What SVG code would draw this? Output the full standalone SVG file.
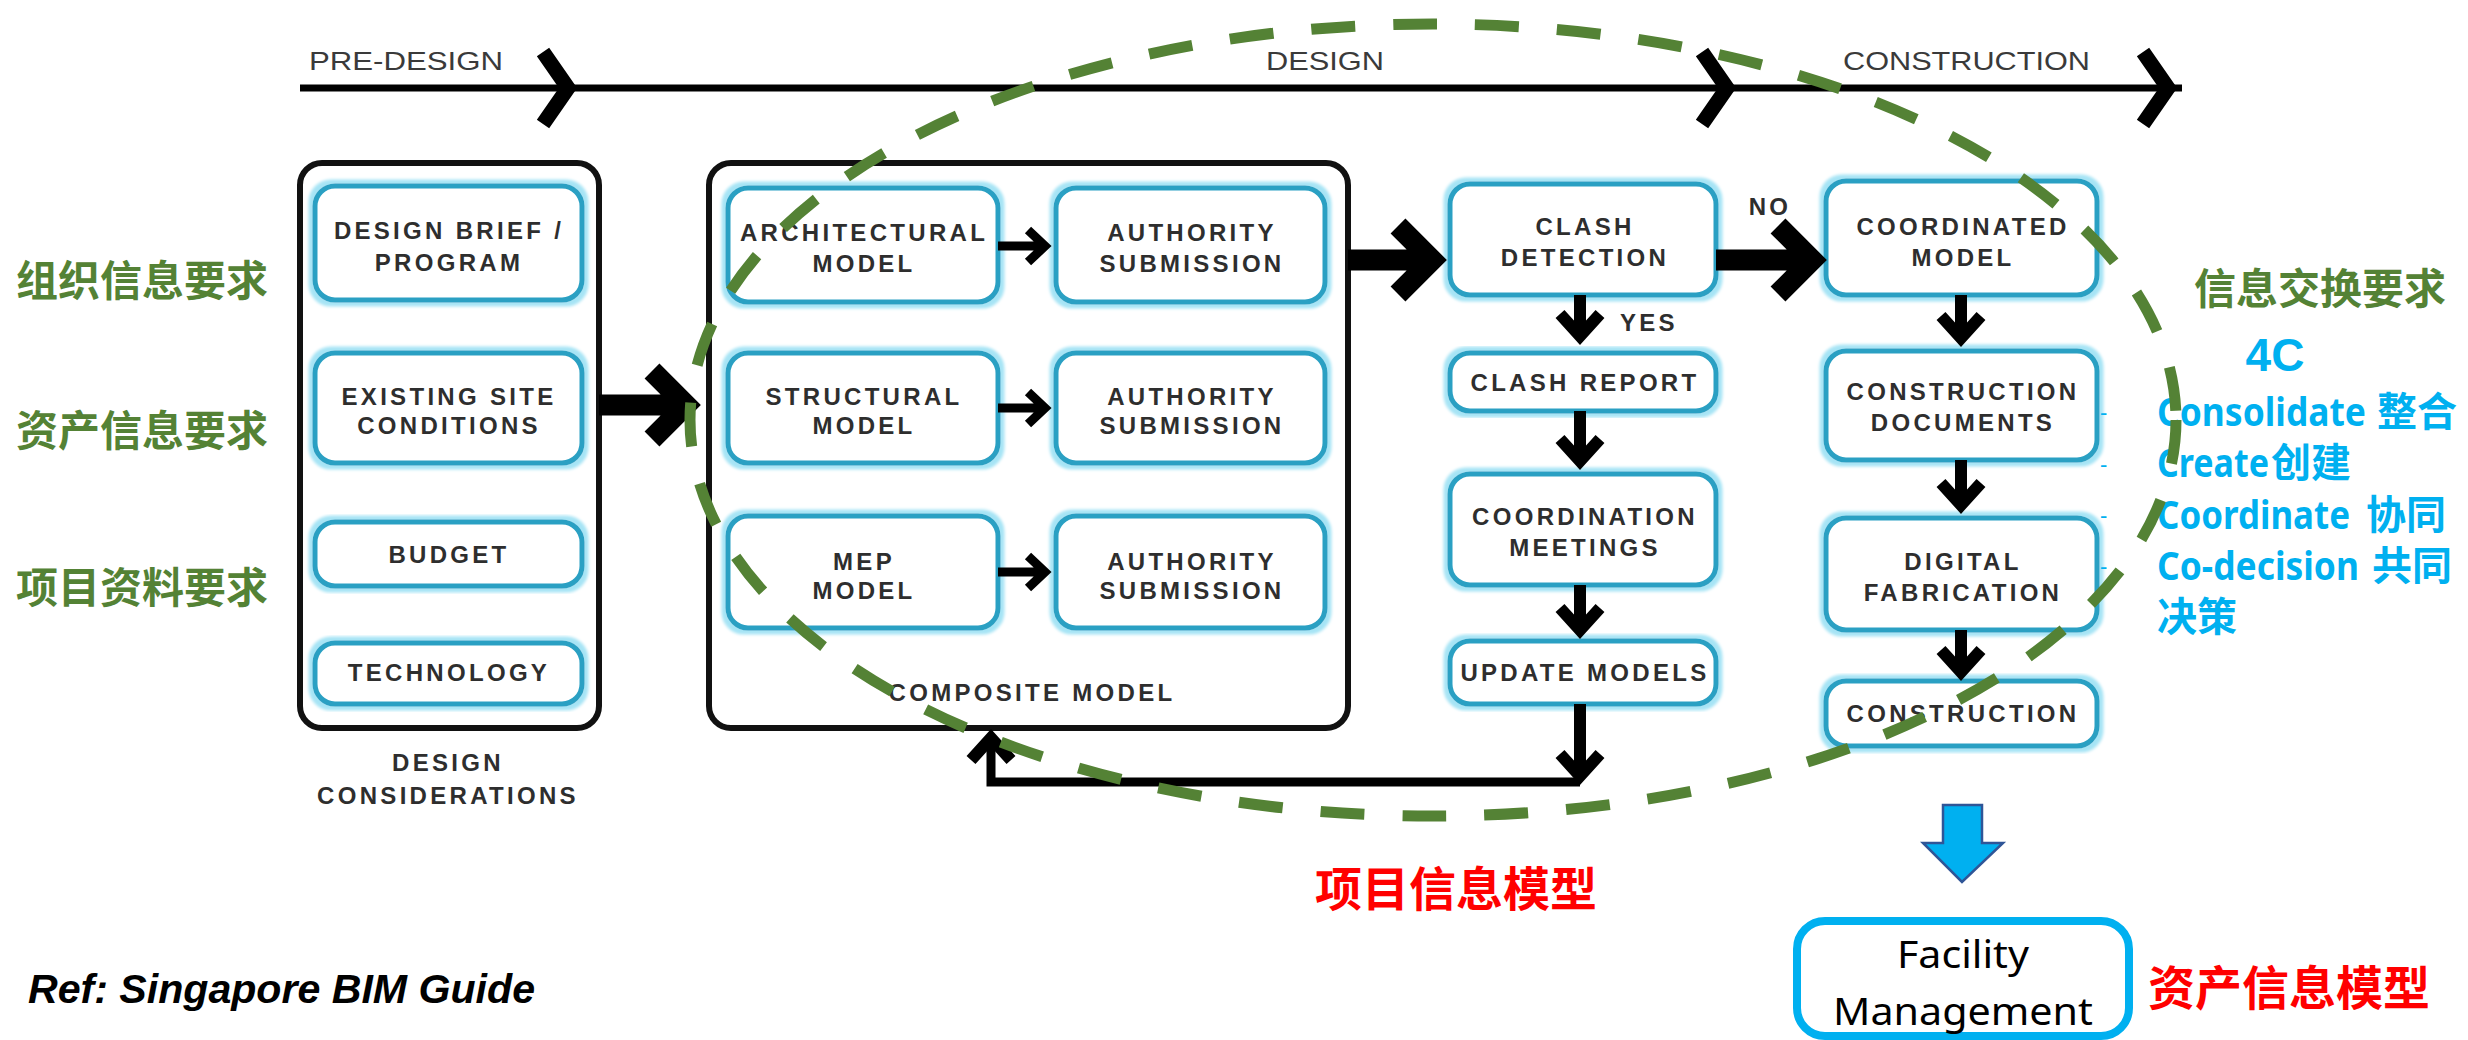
<svg xmlns="http://www.w3.org/2000/svg" width="2468" height="1040" viewBox="0 0 2468 1040">
<style>
.nb{fill:#fff;stroke:#2aa0c3;stroke-width:5;filter:url(#glow)}
.ob{fill:#fff;stroke:#111;stroke-width:6}
.t{font-family:"Liberation Sans",Arial,sans-serif;font-weight:bold;font-size:24px;letter-spacing:3.3px;fill:#2e2e2e;text-anchor:middle}
.tl{font-family:"Liberation Sans",Arial,sans-serif;font-size:26px;fill:#3a3a3a}
.big{fill:none;stroke:#000;stroke-width:21;stroke-linejoin:miter}
.sm{fill:none;stroke:#000;stroke-width:9;stroke-linejoin:miter}
.vt{fill:none;stroke:#000;stroke-width:12;stroke-linejoin:miter}
.gr{font-family:"Noto Sans CJK SC","Noto Sans",sans-serif;font-weight:bold;font-size:42px;fill:#548235}
.bl{font-family:"Noto Sans","Noto Sans CJK SC",sans-serif;font-weight:bold;font-size:40px;fill:#00b0f0}
.rd{font-family:"Noto Sans CJK SC",sans-serif;font-weight:bold;font-size:47px;fill:#ff0000}
</style>
<defs>
<filter id="glow" x="-5%" y="-12%" width="110%" height="124%">
<feMorphology in="SourceAlpha" operator="dilate" radius="3.5" result="d"/>
<feGaussianBlur in="d" stdDeviation="1.5" result="b"/>
<feFlood flood-color="#a6e4f5"/>
<feComposite in2="b" operator="in" result="g"/>
<feMerge><feMergeNode in="g"/><feMergeNode in="SourceGraphic"/></feMerge>
</filter>
</defs>
<rect width="2468" height="1040" fill="#fff"/>

<g id="timeline">
<path d="M300,88 H2182" stroke="#000" stroke-width="7" fill="none"/>
<path d="M543,52 L568,88 L543,124" stroke="#000" stroke-width="15" fill="none" stroke-linejoin="miter"/>
<path d="M1702,52 L1727,88 L1702,124" stroke="#000" stroke-width="15" fill="none" stroke-linejoin="miter"/>
<path d="M2143,52 L2168,88 L2143,124" stroke="#000" stroke-width="15" fill="none" stroke-linejoin="miter"/>
<text class="tl" x="309" y="70" textLength="194" lengthAdjust="spacingAndGlyphs">PRE-DESIGN</text>
<text class="tl" x="1266" y="70" textLength="118" lengthAdjust="spacingAndGlyphs">DESIGN</text>
<text class="tl" x="1843" y="70" textLength="247" lengthAdjust="spacingAndGlyphs">CONSTRUCTION</text>
</g>

<g id="design-considerations">
<rect class="ob" x="300" y="163" width="299" height="565" rx="22"/>
<text class="t" x="448" y="771">DESIGN</text>
<text class="t" x="448" y="804">CONSIDERATIONS</text>
</g>
<g id="design-brief">
<rect class="nb" x="315" y="186" width="267" height="114" rx="20"/>
<text class="t" x="449" y="239">DESIGN BRIEF /</text>
<text class="t" x="449" y="271">PROGRAM</text>
</g>
<g id="existing-site">
<rect class="nb" x="315" y="353" width="267" height="110" rx="20"/>
<text class="t" x="449" y="405">EXISTING SITE</text>
<text class="t" x="449" y="434">CONDITIONS</text>
</g>
<g id="budget">
<rect class="nb" x="315" y="522" width="267" height="64" rx="20"/>
<text class="t" x="449" y="563">BUDGET</text>
</g>
<g id="technology">
<rect class="nb" x="315" y="643" width="267" height="61" rx="20"/>
<text class="t" x="449" y="681">TECHNOLOGY</text>
</g>

<g id="composite-model">
<rect class="ob" x="709" y="163" width="639" height="565" rx="22"/>
<text class="t" x="1032" y="701">COMPOSITE MODEL</text>
</g>
<g id="architectural-model">
<rect class="nb" x="728" y="188" width="270" height="114" rx="20"/>
<text class="t" x="864" y="241">ARCHITECTURAL</text>
<text class="t" x="864" y="272">MODEL</text>
</g>
<g id="authority-1">
<rect class="nb" x="1056" y="188" width="269" height="114" rx="20"/>
<text class="t" x="1192" y="241">AUTHORITY</text>
<text class="t" x="1192" y="272">SUBMISSION</text>
</g>
<g id="structural-model">
<rect class="nb" x="728" y="353" width="270" height="110" rx="20"/>
<text class="t" x="864" y="405">STRUCTURAL</text>
<text class="t" x="864" y="434">MODEL</text>
</g>
<g id="authority-2">
<rect class="nb" x="1056" y="353" width="269" height="110" rx="20"/>
<text class="t" x="1192" y="405">AUTHORITY</text>
<text class="t" x="1192" y="434">SUBMISSION</text>
</g>
<g id="mep-model">
<rect class="nb" x="728" y="516" width="270" height="112" rx="20"/>
<text class="t" x="864" y="570">MEP</text>
<text class="t" x="864" y="599">MODEL</text>
</g>
<g id="authority-3">
<rect class="nb" x="1056" y="516" width="269" height="112" rx="20"/>
<text class="t" x="1192" y="570">AUTHORITY</text>
<text class="t" x="1192" y="599">SUBMISSION</text>
</g>

<g id="clash-detection">
<rect class="nb" x="1450" y="184" width="266" height="111" rx="20"/>
<text class="t" x="1585" y="235">CLASH</text>
<text class="t" x="1585" y="266">DETECTION</text>
</g>
<g id="clash-report">
<rect class="nb" x="1450" y="353" width="266" height="58" rx="20"/>
<text class="t" x="1585" y="391">CLASH REPORT</text>
</g>
<g id="coordination-meetings">
<rect class="nb" x="1450" y="474" width="266" height="111" rx="20"/>
<text class="t" x="1585" y="525">COORDINATION</text>
<text class="t" x="1585" y="556">MEETINGS</text>
</g>
<g id="update-models">
<rect class="nb" x="1450" y="641" width="266" height="63" rx="20"/>
<text class="t" x="1585" y="681">UPDATE MODELS</text>
</g>

<g id="coordinated-model">
<rect class="nb" x="1826" y="181" width="271" height="114" rx="20"/>
<text class="t" x="1963" y="235">COORDINATED</text>
<text class="t" x="1963" y="266">MODEL</text>
</g>
<g id="construction-documents">
<rect class="nb" x="1826" y="351" width="271" height="109" rx="20"/>
<text class="t" x="1963" y="400">CONSTRUCTION</text>
<text class="t" x="1963" y="431">DOCUMENTS</text>
</g>
<g id="digital-fabrication">
<rect class="nb" x="1826" y="518" width="271" height="112" rx="20"/>
<text class="t" x="1963" y="570">DIGITAL</text>
<text class="t" x="1963" y="601">FABRICATION</text>
</g>
<g id="construction">
<rect class="nb" x="1826" y="681" width="271" height="65" rx="20"/>
<text class="t" x="1963" y="722">CONSTRUCTION</text>
</g>

<g id="connectors">
<path class="big" d="M599,405 H686 M652,371 L686,405 L652,439"/>
<path class="big" d="M1348,260 H1432 M1398,226 L1432,260 L1398,294"/>
<path class="big" d="M1716,260 H1812 M1778,226 L1812,260 L1778,294"/>
<path class="sm" d="M998,246 H1044 M1028,230 L1045,246 L1028,262"/>
<path class="sm" d="M998,408 H1044 M1028,392 L1045,408 L1028,424"/>
<path class="sm" d="M998,572 H1044 M1028,556 L1045,572 L1028,588"/>
<path class="vt" d="M1580,295 V336 M1560,314 L1580,336 L1600,314"/>
<path class="vt" d="M1580,411 V461 M1560,439 L1580,461 L1600,439"/>
<path class="vt" d="M1580,585 V630 M1560,608 L1580,630 L1600,608"/>
<path class="vt" d="M1580,704 V776 M1560,754 L1580,776 L1600,754"/>
<path d="M1580,782 H991 V736" fill="none" stroke="#000" stroke-width="9"/>
<path class="vt" d="M971,760 L991,738 L1011,760"/>
<path class="vt" d="M1961,295 V338 M1941,316 L1961,338 L1981,316"/>
<path class="vt" d="M1961,460 V505 M1941,483 L1961,505 L1981,483"/>
<path class="vt" d="M1961,630 V672 M1941,650 L1961,672 L1981,650"/>
<text class="t" x="1620" y="331" style="text-anchor:start">YES</text>
<text class="t" x="1770" y="215">NO</text>
</g>

<g id="left-labels">
<text class="gr" x="16" y="296">组织信息要求</text>
<text class="gr" x="16" y="446">资产信息要求</text>
<text class="gr" x="16" y="603">项目资料要求</text>
</g>

<g id="right-labels">
<text class="gr" x="2194" y="304">信息交换要求</text>
<text x="2275" y="371" text-anchor="middle" style="font-family:'Liberation Sans',Arial,sans-serif;font-weight:bold;font-size:46px;fill:#00b0f0">4C</text>
<g style="font-family:'Liberation Sans',sans-serif;font-size:22px;fill:#00b0f0">
<text x="2100" y="420">-</text>
<text x="2100" y="472">-</text>
<text x="2100" y="523">-</text>
<text x="2100" y="574">-</text>
</g>
<text class="bl" x="2157" y="426"><tspan textLength="209" lengthAdjust="spacingAndGlyphs">Consolidate</tspan><tspan x="2377">整合</tspan></text>
<text class="bl" x="2157" y="477"><tspan textLength="112" lengthAdjust="spacingAndGlyphs">Create</tspan><tspan x="2271">创建</tspan></text>
<text class="bl" x="2157" y="529"><tspan textLength="193" lengthAdjust="spacingAndGlyphs">Coordinate</tspan><tspan x="2366">协同</tspan></text>
<text class="bl" x="2157" y="580"><tspan textLength="202" lengthAdjust="spacingAndGlyphs">Co-decision</tspan><tspan x="2372">共同</tspan></text>
<text class="bl" x="2157" y="631">决策</text>
</g>

<g id="project-model-ellipse">
<ellipse cx="1433" cy="420" rx="743" ry="396" fill="none" stroke="#548235" stroke-width="11" stroke-dasharray="44 38"/>
</g>

<g id="labels-bottom">
<text class="rd" x="1315" y="906">项目信息模型</text>
<text x="28" y="1003" textLength="507" lengthAdjust="spacingAndGlyphs" style="font-family:'Liberation Sans',Arial,sans-serif;font-weight:bold;font-style:italic;font-size:41px;fill:#000">Ref: Singapore BIM Guide</text>
</g>

<g id="handover-arrow">
<polygon points="1943,805 1982,805 1982,843 2003,843 1962,882 1923,843 1943,843" fill="#00b0f0" stroke="#2f5597" stroke-width="2.5"/>
</g>

<g id="facility-management">
<rect x="1797" y="921" width="332" height="115" rx="28" fill="#fff" stroke="#00b0f0" stroke-width="8"/>
<text x="1963" y="968" text-anchor="middle" textLength="132" lengthAdjust="spacingAndGlyphs" style="font-family:'Noto Sans','Liberation Sans',sans-serif;font-size:38px;fill:#000">Facility</text>
<text x="1963" y="1025" text-anchor="middle" textLength="260" lengthAdjust="spacingAndGlyphs" style="font-family:'Noto Sans','Liberation Sans',sans-serif;font-size:38px;fill:#000">Management</text>
</g>
<text class="rd" x="2148" y="1005">资产信息模型</text>
</svg>
